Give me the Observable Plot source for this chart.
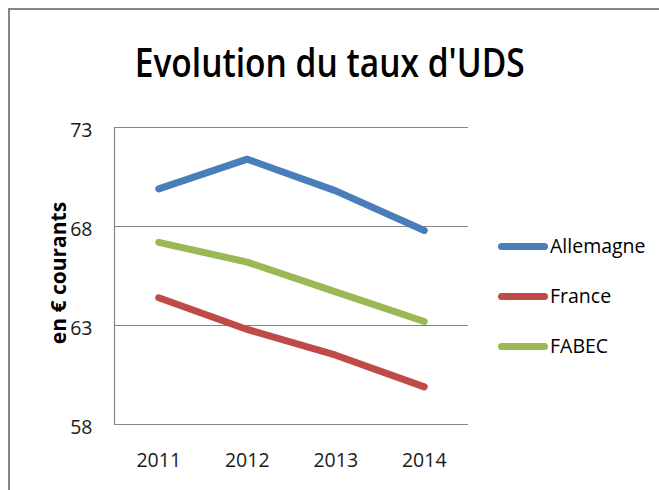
<!DOCTYPE html>
<html>
<head>
<meta charset="utf-8">
<script src="https://cdn.jsdelivr.net/npm/d3@7"></script>
<script src="https://cdn.jsdelivr.net/npm/@observablehq/plot@0.6"></script>
<style>
  html, body { margin: 0; padding: 0; background: #fff; }
  #wrap { position: relative; width: 659px; height: 490px; overflow: hidden; background: #fff; font-family: "Open Sans", sans-serif; }
  #border { position: absolute; left: 8px; top: 8px; width: 700px; height: 600px; border-left: 2px solid #868686; border-top: 2px solid #868686; }
  #title { position: absolute; left: 0; top: 42px; width: 659px; text-align: center; line-height: 1; }
  #title span { display: inline-block; font-size: 39px; font-weight: 600; color: #000; transform-origin: 50% 50%; white-space: nowrap; }
  #chart { position: absolute; left: 0; top: 0; }
  #legend { position: absolute; left: 498px; top: 0; }
  .row { position: absolute; left: 0; display: flex; align-items: center; height: 24px; white-space: nowrap; }
  .sw { width: 50px; height: 7px; border-radius: 4px; margin-right: 2px; }
  .lab { font-size: 19.5px; line-height: 1; color: #000; }
</style>
</head>
<body>
<div id="wrap">
  <div id="border"></div>
  <div id="chart"></div>
  <div id="title"><span id="titletext"></span></div>
  <div id="legend"></div>
</div>
<script>
const titleText = "Evolution du taux d'UDS";
const yLabel = "en € courants";
const years = [2011, 2012, 2013, 2014];
const seriesNames = ["Allemagne", "France", "FABEC"];
const seriesColors = ["#4A7EBB", "#BE4B48", "#98B954"];
const allemagne = [69.9, 71.4, 69.8, 67.8];
const france = [64.4, 62.8, 61.5, 59.9];
const fabec = [67.2, 66.2, 64.7, 63.2];
const yTicks = [58, 63, 68, 73];

const seriesValues = [allemagne, france, fabec];
const data = [];
seriesNames.forEach((name, s) => {
  years.forEach((yr, i) => data.push({series: name, year: yr, value: seriesValues[s][i]}));
});

const W = 659, H = 490;
const plot = Plot.plot({
  width: W,
  height: H,
  marginLeft: 114,
  marginRight: 191,
  marginTop: 127,
  marginBottom: 66,
  style: {fontFamily: "Open Sans, sans-serif", fontSize: "19.5px", color: "#1a1a1a", background: "transparent"},
  x: {domain: [years[0] - 0.5, years[years.length - 1] + 0.5], ticks: years, tickFormat: d => String(d)},
  y: {domain: [yTicks[0], yTicks[yTicks.length - 1]], ticks: yTicks},
  color: {domain: seriesNames, range: seriesColors},
  marks: [
    Plot.ruleY(yTicks, {stroke: "#868686", strokeWidth: 1.2, strokeOpacity: 1}),
    Plot.ruleX([years[0] - 0.5], {stroke: "#868686", strokeWidth: 1.2, strokeOpacity: 1}),
    Plot.axisY({ticks: yTicks, tickSize: 0, tickPadding: 22, dy: 3, label: null, fontSize: 19.5}),
    Plot.axisX({ticks: years, tickSize: 0, tickPadding: 29, label: null, tickFormat: d => String(d), fontSize: 19.5}),
    Plot.text([yLabel], {frameAnchor: "left", textAnchor: "middle", rotate: -90, dx: -55, dy: -3, fontWeight: "bold", fontSize: 21, fill: "#000"}),
    Plot.line(data, {x: "year", y: "value", z: "series", stroke: "series", strokeWidth: 7, strokeLinecap: "round", strokeLinejoin: "round"})
  ]
});
document.getElementById("chart").appendChild(plot);

// title
const t = document.getElementById("titletext");
t.textContent = titleText;
const tw = t.getBoundingClientRect().width;
t.style.transform = `scaleX(${390 / tw})`;

// legend
const legend = document.getElementById("legend");
const centers = [246, 296, 346];
seriesNames.forEach((name, i) => {
  const row = document.createElement("div");
  row.className = "row";
  row.style.top = (centers[i] - 12) + "px";
  const sw = document.createElement("div");
  sw.className = "sw";
  sw.style.background = seriesColors[i];
  const lab = document.createElement("span");
  lab.className = "lab";
  lab.textContent = name;
  row.appendChild(sw);
  row.appendChild(lab);
  legend.appendChild(row);
});
</script>
</body>
</html>
